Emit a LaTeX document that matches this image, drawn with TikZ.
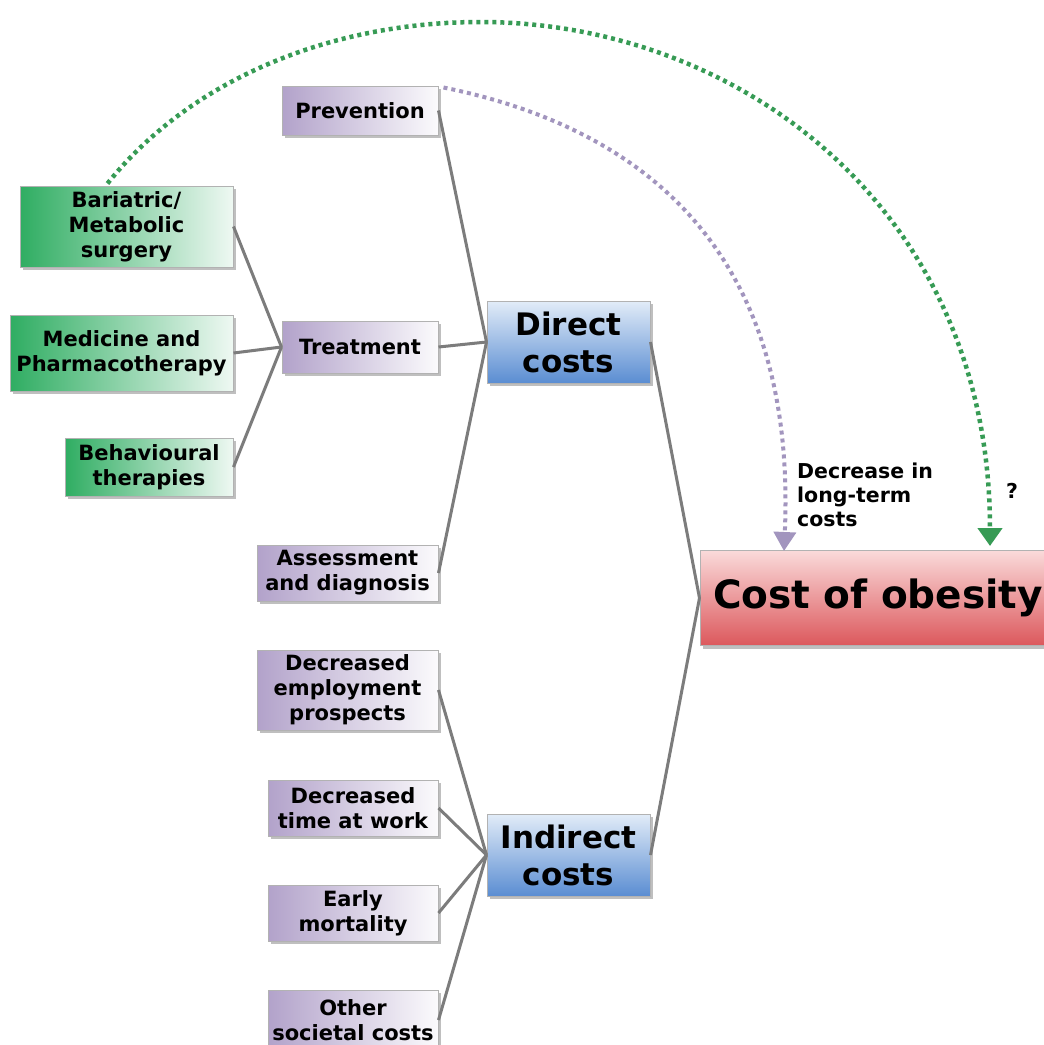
\documentclass[tikz,border=0pt]{standalone}
\usepackage{fontspec}
\setmainfont{DejaVu Sans}
\usetikzlibrary{arrows.meta, shadows}

\definecolor{lav}{HTML}{B2A2CA}
\definecolor{leaf}{HTML}{2FAD62}
\definecolor{skytop}{HTML}{E2ECF8}
\definecolor{skybot}{HTML}{5A8DD2}
\definecolor{rosetop}{HTML}{FADADA}
\definecolor{rosebot}{HTML}{DC585C}
\definecolor{linkgray}{HTML}{7C7C7C}
\definecolor{arcgreen}{HTML}{379B55}
\definecolor{arcpurple}{HTML}{A295BE}

\begin{document}
\begin{tikzpicture}[x=1pt, y=-1pt,
  box/.style={draw=gray!60, line width=1pt, align=center, inner sep=2pt,
    font=\bfseries\fontsize{21}{25}\selectfont,
    drop shadow={shadow xshift=3pt, shadow yshift=-3pt, fill=black!55, opacity=.45}},
  cause/.style={box, left color=lav, right color=lav!5},
  therapy/.style={box, left color=leaf, right color=leaf!8},
  costbox/.style={box, top color=skytop, bottom color=skybot,
    font=\bfseries\fontsize{31}{37}\selectfont},
  total/.style={box, top color=rosetop, bottom color=rosebot,
    font=\bfseries\fontsize{39}{44}\selectfont},
  link/.style={draw=linkgray, line width=3pt},
  arc/.style={line width=4.5pt, dash pattern=on 4pt off 4pt},
  note/.style={font=\bfseries\fontsize{20.5}{24}\selectfont, align=left, inner sep=0pt}]
\path[fill=white, use as bounding box] (0,0) rectangle (1044,1045);
% therapies
\node[therapy, minimum width=213, minimum height=81] (bari) at (126.5,226.5) {Bariatric/\\Metabolic\\surgery};
\node[therapy, minimum width=223, minimum height=76] (med) at (121.5,353) {Medicine and\\Pharmacotherapy};
\node[therapy, minimum width=168, minimum height=58] (behav) at (149,467) {Behavioural\\therapies};
% direct cost items
\node[cause, minimum width=156, minimum height=49] (prev) at (360,110.5) {Prevention};
\node[cause, minimum width=156, minimum height=52] (treat) at (360,347) {Treatment};
\node[cause, minimum width=181, minimum height=56] (assess) at (347.5,573) {Assessment\\and diagnosis};
% indirect cost items
\node[cause, minimum width=181, minimum height=80] (employ) at (347.5,690) {Decreased\\employment\\prospects};
\node[cause, minimum width=170, minimum height=56] (worktime) at (353,808) {Decreased\\time at work};
\node[cause, minimum width=170, minimum height=56] (mort) at (353,913) {Early\\mortality};
\node[cause, minimum width=170, minimum height=60] (other) at (353,1020) {Other\\societal costs};
% cost groups
\node[costbox, minimum width=163, minimum height=82] (direct) at (568.5,342) {Direct\\costs};
\node[costbox, minimum width=163, minimum height=82] (indirect) at (568.5,855) {Indirect\\costs};
\node[total, minimum width=356, minimum height=95] (cost) at (878,598) {Cost of obesity};
% links
\draw[link] (bari.east) -- (treat.west);
\draw[link] (med.east) -- (treat.west);
\draw[link] (behav.east) -- (treat.west);
\draw[link] (prev.east) -- (direct.west);
\draw[link] (treat.east) -- (direct.west);
\draw[link] (assess.east) -- (direct.west);
\draw[link] (employ.east) -- (indirect.west);
\draw[link] (worktime.east) -- (indirect.west);
\draw[link] (mort.east) -- (indirect.west);
\draw[link] (other.east) -- (indirect.west);
\draw[link] (direct.east) -- (cost.west);
\draw[link] (indirect.east) -- (cost.west);
% effects on the total cost
\coordinate (gtip) at (990,546);
\coordinate (ptip) at (784,551);
\draw[arc, arcgreen, -{Triangle[width=24pt,length=18pt]}]
  ([xshift=-19pt,yshift=2pt]bari.north) .. controls (190,80) and (330,22) .. (480,22)
  .. controls (740,22) and (990,210) .. (gtip);
\draw[arc, arcpurple, line width=4pt, -{Triangle[width=22pt,length=19pt]}]
  ([xshift=5pt,yshift=-2pt]prev.north east) .. controls (673,134) and (796,280) .. (ptip);
\node[note, anchor=north west] (gain) at (797,463) {Decrease in\\long-term\\costs};
\node[note] (unknown) at (1012,491) {?};
\end{tikzpicture}
\end{document}
